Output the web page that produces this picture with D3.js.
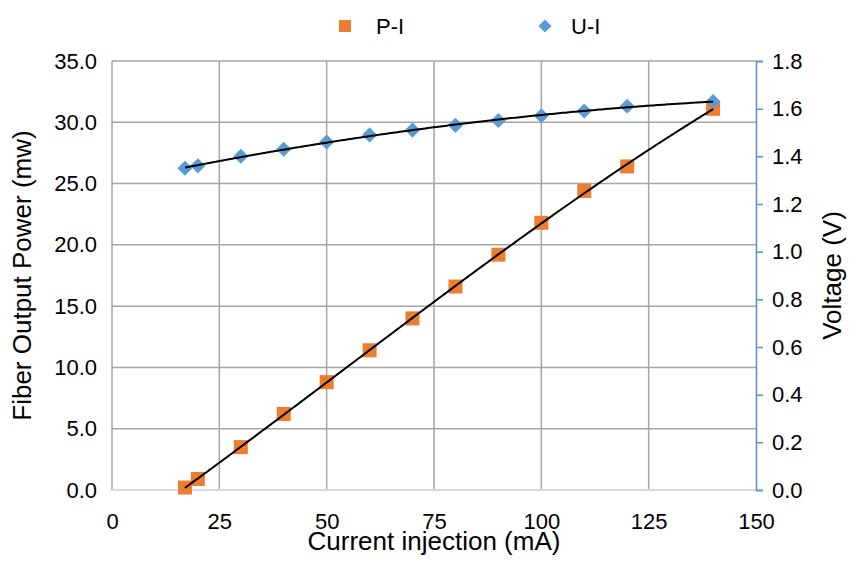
<!DOCTYPE html>
<html lang="en">
<head>
    <meta charset="UTF-8">
    <title>P-I and U-I curves</title>
    <script src="https://d3js.org/d3.v7.min.js"></script>
    <style>
        body { margin: 0; background: #fff; }
        text { font-family: "Liberation Sans", Arial, sans-serif; fill: #000; }
    </style>
</head>
<body>
    <div id="chart"></div>

    <script>
        // data
        const current = [17, 20, 30, 40, 50, 60, 70, 80, 90, 100, 110, 120, 140];
        const power = [0.2, 0.9, 3.5, 6.2, 8.8, 11.4, 14.0, 16.6, 19.2, 21.8, 24.4, 26.4, 31.1];
        const voltage = [1.35, 1.36, 1.40, 1.43, 1.46, 1.49, 1.51, 1.53, 1.55, 1.57, 1.59, 1.61, 1.63];

        const xTicks = [0, 25, 50, 75, 100, 125, 150];
        const powerTicks = [0, 5, 10, 15, 20, 25, 30, 35];
        const voltTicks = [0, 0.2, 0.4, 0.6, 0.8, 1.0, 1.2, 1.4, 1.6, 1.8];
        const seriesNames = ["P-I", "U-I"];

        const W = 867, H = 585;
        const margin = {top: 61, right: 111, bottom: 95, left: 112},
              width = W - margin.left - margin.right,
              height = H - margin.top - margin.bottom;

        const orange = "#ed7d31", blue = "#5b9bd5", grid = "#a6a6a6";

        const svg = d3.select("#chart").append("svg")
            .attr("width", W)
            .attr("height", H);

        const g = svg.append("g")
            .attr("transform", "translate(" + margin.left + "," + margin.top + ")");

        const x = d3.scaleLinear().domain([0, 150]).range([0, width]);
        const yL = d3.scaleLinear().domain([0, 35]).range([height, 0]);
        const yR = d3.scaleLinear().domain([0, 1.8]).range([height, 0]);

        // gridlines
        g.selectAll(".hgrid")
            .data(powerTicks.filter(d => d > 0))
            .enter().append("line")
            .attr("x1", 0).attr("x2", width)
            .attr("y1", d => yL(d)).attr("y2", d => yL(d))
            .attr("stroke", grid).attr("stroke-width", 1.5);

        g.selectAll(".vgrid")
            .data(xTicks.filter(d => d < 150))
            .enter().append("line")
            .attr("x1", d => x(d)).attr("x2", d => x(d))
            .attr("y1", 0).attr("y2", height)
            .attr("stroke", grid).attr("stroke-width", 1.5);

        // bottom axis
        g.append("line")
            .attr("x1", 0).attr("x2", width)
            .attr("y1", height).attr("y2", height)
            .attr("stroke", "#d9d9d9").attr("stroke-width", 2);

        const xAxis = g.append("g")
            .attr("transform", "translate(0," + height + ")")
            .call(d3.axisBottom(x).tickValues(xTicks).tickSize(0).tickPadding(23));
        xAxis.select(".domain").remove();
        xAxis.selectAll("text").style("font-size", "22px").attr("fill", "#000");

        const yAxisL = g.append("g")
            .call(d3.axisLeft(yL).tickValues(powerTicks).tickSize(0).tickPadding(15).tickFormat(d3.format(".1f")));
        yAxisL.select(".domain").remove();
        yAxisL.selectAll("text").style("font-size", "22px").attr("fill", "#000");

        const yAxisR = g.append("g")
            .attr("transform", "translate(" + width + ",0)")
            .call(d3.axisRight(yR).tickValues(voltTicks).tickSize(7).tickSizeOuter(7).tickPadding(9).tickFormat(d3.format(".1f")));
        yAxisR.select(".domain").attr("stroke", "#5a8fc8").attr("stroke-width", 1.5);
        yAxisR.selectAll(".tick line").attr("stroke", "#5a8fc8").attr("stroke-width", 1.5);
        yAxisR.selectAll("text").style("font-size", "22px").attr("fill", "#000");

        // axis titles (x title sits over the tick labels, as in the original)
        g.append("text")
            .attr("x", width / 2).attr("y", height + 60)
            .attr("text-anchor", "middle")
            .style("font-size", "26px")
            .text("Current injection (mA)");

        g.append("text")
            .attr("transform", "translate(" + (-81) + "," + (height / 2) + ") rotate(-90)")
            .attr("text-anchor", "middle")
            .style("font-size", "26px")
            .text("Fiber Output Power (mw)");

        g.append("text")
            .attr("transform", "translate(" + (width + 85) + "," + (height / 2) + ") rotate(-90)")
            .attr("text-anchor", "middle")
            .style("font-size", "26px")
            .text("Voltage (V)");

        // markers
        const pts = current.map((c, i) => ({c: c, p: power[i], v: voltage[i]}));
        const sq = 14;

        g.selectAll(".pi")
            .data(pts)
            .enter().append("rect")
            .attr("x", d => x(d.c) - sq / 2)
            .attr("y", d => yL(d.p) - sq / 2)
            .attr("width", sq).attr("height", sq)
            .attr("fill", orange);

        const diamond = d3.symbol().type(d3.symbolDiamond2).size(145);
        g.selectAll(".ui")
            .data(pts)
            .enter().append("path")
            .attr("d", diamond)
            .attr("transform", d => "translate(" + x(d.c) + "," + yR(d.v) + ")")
            .attr("fill", blue);

        // polynomial trendlines (least squares)
        function polyfit(xs, ys, order) {
            const n = order + 1;
            const A = [];
            for (let r = 0; r < n; r++) {
                A.push([]);
                for (let c = 0; c <= n; c++) A[r].push(0);
            }
            xs.forEach((xv, i) => {
                const t = xv / 100;
                for (let r = 0; r < n; r++) {
                    for (let c = 0; c < n; c++) A[r][c] += Math.pow(t, r + c);
                    A[r][n] += ys[i] * Math.pow(t, r);
                }
            });
            for (let k = 0; k < n; k++) {
                for (let r = k + 1; r < n; r++) {
                    const f = A[r][k] / A[k][k];
                    for (let c = k; c <= n; c++) A[r][c] -= f * A[k][c];
                }
            }
            const coef = new Array(n).fill(0);
            for (let r = n - 1; r >= 0; r--) {
                let s = A[r][n];
                for (let c = r + 1; c < n; c++) s -= A[r][c] * coef[c];
                coef[r] = s / A[r][r];
            }
            return xv => coef.reduce((acc, a, j) => acc + a * Math.pow(xv / 100, j), 0);
        }

        const fitP = polyfit(current, power, 3);
        const fitV = polyfit(current, voltage, 2);
        const xs = d3.range(current[0], current[current.length - 1] + 0.01, 0.5);

        g.append("path")
            .datum(xs)
            .attr("fill", "none").attr("stroke", "#000").attr("stroke-width", 2)
            .attr("d", d3.line().x(d => x(d)).y(d => yL(fitP(d))));

        g.append("path")
            .datum(xs)
            .attr("fill", "none").attr("stroke", "#000").attr("stroke-width", 2)
            .attr("d", d3.line().x(d => x(d)).y(d => yR(fitV(d))));

        // legend
        const legend = svg.append("g").attr("transform", "translate(0,26)");
        legend.append("rect")
            .attr("x", 339).attr("y", -6).attr("width", 12).attr("height", 12)
            .attr("fill", orange);
        legend.append("text")
            .attr("x", 376).attr("dy", "0.35em")
            .style("font-size", "22px")
            .text(seriesNames[0]);
        legend.append("path")
            .attr("d", d3.symbol().type(d3.symbolDiamond2).size(110))
            .attr("transform", "translate(545,0)")
            .attr("fill", blue);
        legend.append("text")
            .attr("x", 571).attr("dy", "0.35em")
            .style("font-size", "22px")
            .text(seriesNames[1]);
    </script>
</body>
</html>
